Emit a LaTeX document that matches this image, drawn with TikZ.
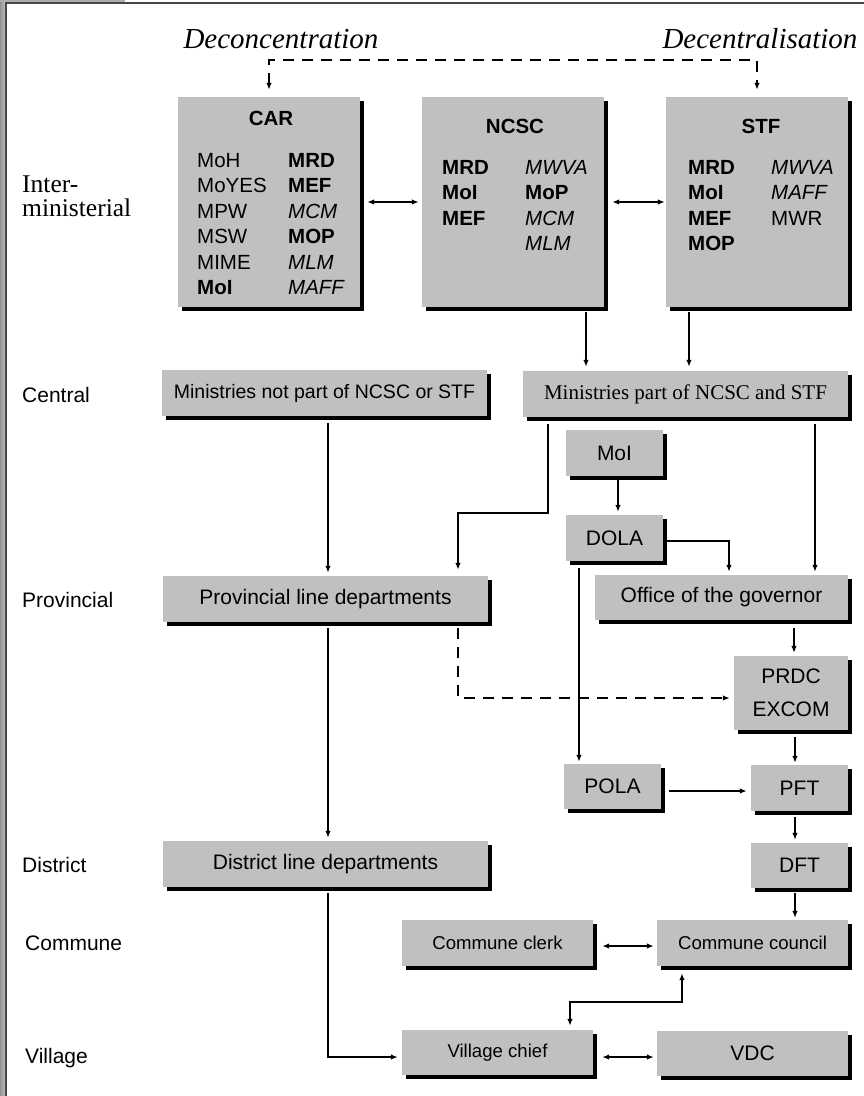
\documentclass[tikz,border=0pt]{standalone}
\usepackage{fontspec}
\setmainfont{Liberation Sans}
\newfontfamily\timesfont{Liberation Serif}
\usetikzlibrary{arrows.meta,shadows}
\definecolor{boxgray}{RGB}{192,192,192}
\definecolor{framegray}{RGB}{70,70,70}
\tikzset{
  box/.style={fill=boxgray, inner sep=0pt, font=\fontsize{21}{25}\selectfont,
    drop shadow={shadow xshift=4pt, shadow yshift=-4pt, fill=black, opacity=1}},
  item/.style={font=\fontsize{20.5}{25}\selectfont, inner sep=0pt, anchor=base west},
  head/.style={font=\fontsize{20.5}{25}\selectfont\bfseries, inner sep=0pt, anchor=base},
  level/.style={font=\fontsize{21}{25}\selectfont, inner sep=0pt, anchor=base west},
  arr/.style={line width=1.7pt, -{Latex[length=7pt,width=5.5pt]}},
  both/.style={line width=1.7pt, {Latex[length=7pt,width=5.5pt]}-{Latex[length=7pt,width=5.5pt]}},
  dashline/.style={dash pattern=on 11pt off 8pt},
}
\begin{document}
\begin{tikzpicture}[x=1pt,y=-1pt]
  \useasboundingbox (0,0) rectangle (864,1096);
  % page frame
  \shade[left color=gray!85, right color=gray!50] (0,0) rectangle (5,1096);
  \fill[gray!65] (0,0) rectangle (125,2);
  \draw[framegray, line width=2pt] (6,1096) -- (6,3) -- (864,3);

  % levels
  \node[anchor=north west, inner sep=0pt, align=left, font=\timesfont\fontsize{25.5}{24}\selectfont] (lvinter) at (22,176) {Inter-\\ministerial};
  \node[level] (lvcentral) at (22,402) {Central};
  \node[level] (lvprov) at (22,607) {Provincial};
  \node[level] (lvdist) at (22,872) {District};
  \node[level] (lvcomm) at (25,950) {Commune};
  \node[level] (lvvill) at (25,1063) {Village};

  \node[anchor=base, inner sep=0pt, font=\timesfont\itshape\fontsize{29}{29}\selectfont] (deconc) at (281,48) {Deconcentration};
  \node[anchor=base, inner sep=0pt, font=\timesfont\itshape\fontsize{29}{29}\selectfont] (decent) at (760,48) {Decentralisation};

  % inter-ministerial boxes
  \node[box, minimum width=182pt, minimum height=210pt] (car) at (269,202) {};
  \node[box, minimum width=182pt, minimum height=210pt] (ncsc) at (513,202) {};
  \node[box, minimum width=182pt, minimum height=210pt] (stf) at (757,202) {};
  \node[head] (carhead) at (271,125) {CAR};
  \node[head] (ncschead) at (515,133) {NCSC};
  \node[head] (stfhead) at (761,133) {STF};
  \foreach \t [count=\i] in {MoH,MoYES,MPW,MSW,MIME,\textbf{MoI}}
    \node[item] (cara\i) at (197,{167+25.5*(\i-1)}) {\t};
  \foreach \t [count=\i] in {\textbf{MRD},\textbf{MEF},\textit{MCM},\textbf{MOP},\textit{MLM},\textit{MAFF}}
    \node[item] (carb\i) at (288,{167+25.5*(\i-1)}) {\t};
  \foreach \t [count=\i] in {\textbf{MRD},\textbf{MoI},\textbf{MEF}}
    \node[item] (ncsca\i) at (442,{174+25.5*(\i-1)}) {\t};
  \foreach \t [count=\i] in {\textit{MWVA},\textbf{MoP},\textit{MCM},\textit{MLM}}
    \node[item] (ncscb\i) at (525,{174+25.5*(\i-1)}) {\t};
  \foreach \t [count=\i] in {\textbf{MRD},\textbf{MoI},\textbf{MEF},\textbf{MOP}}
    \node[item] (stfa\i) at (688,{174+25.5*(\i-1)}) {\t};
  \foreach \t [count=\i] in {\textit{MWVA},\textit{MAFF},MWR}
    \node[item] (stfb\i) at (771,{174+25.5*(\i-1)}) {\t};

  % central
  \node[box, minimum width=325pt, minimum height=46pt, font=\fontsize{19.5}{23}\selectfont] (minnot) at (324.5,393) {Ministries not part of NCSC or STF};
  \node[box, minimum width=325pt, minimum height=46pt, font=\timesfont\fontsize{21}{25}\selectfont] (minpart) at (685.5,394) {Ministries part of NCSC and STF};
  \node[box, minimum width=97pt, minimum height=46pt] (moi) at (614.5,453) {MoI};
  \node[box, minimum width=97pt, minimum height=46pt] (dola) at (614.5,538) {DOLA};

  % provincial
  \node[box, minimum width=325pt, minimum height=46pt] (prov) at (325.5,599) {Provincial line departments};
  \node[box, minimum width=253pt, minimum height=45pt] (gov) at (721.5,597.5) {Office of the governor};
  \node[box, minimum width=114pt, minimum height=74pt, align=center, font=\fontsize{21}{33}\selectfont] (prdc) at (791,693) {PRDC\\EXCOM};
  \node[box, minimum width=97pt, minimum height=45pt] (pola) at (612.5,786.5) {POLA};
  \node[box, minimum width=97pt, minimum height=46pt] (pft) at (799.5,788) {PFT};

  % district
  \node[box, minimum width=325pt, minimum height=46pt] (dist) at (325.5,864) {District line departments};
  \node[box, minimum width=97pt, minimum height=45pt] (dft) at (799.5,865.5) {DFT};

  % commune and village
  \node[box, minimum width=191pt, minimum height=46pt, font=\fontsize{18.6}{22}\selectfont] (clerk) at (497.5,943) {Commune clerk};
  \node[box, minimum width=191pt, minimum height=46pt, font=\fontsize{18.6}{22}\selectfont] (council) at (752.5,943) {Commune council};
  \node[box, minimum width=191pt, minimum height=45pt, font=\fontsize{18.6}{22}\selectfont] (chief) at (497.5,1052.5) {Village chief};
  \node[box, minimum width=191pt, minimum height=45pt] (vdc) at (752.5,1053) {VDC};

  % connectors
  \draw[both, dashline, shorten <=7pt, shorten >=7pt] (car.north) -- ++(0,-37) -| (stf.north);
  \draw[both, shorten <=7pt, shorten >=3pt] (car) -- (ncsc);
  \draw[both, shorten <=8pt, shorten >=1pt] (ncsc) -- (stf);
  \draw[arr, shorten <=5pt, shorten >=4pt] ([xshift=73pt]ncsc.south) -- ([xshift=73pt]ncsc.south |- minpart.north);
  \draw[arr, shorten <=5pt, shorten >=4pt] ([xshift=-68pt]stf.south) -- ([xshift=-68pt]stf.south |- minpart.north);

  \draw[arr, shorten <=7pt, shorten >=3pt] ([xshift=3.5pt]minnot.south) -- ([xshift=3.5pt]minnot.south |- prov.north);
  \draw[arr, shorten <=7pt, shorten >=6pt] ([xshift=-137.5pt]minpart.south) -- ++(0,96) -| ([xshift=132.5pt]prov.north);
  \draw[arr, shorten <=7pt, shorten >=3pt] ([xshift=129.5pt]minpart.south) -- ([xshift=129.5pt]minpart.south |- gov.north);
  \draw[arr, shorten <=4pt, shorten >=3pt] ([xshift=3.5pt]moi.south) -- ([xshift=3.5pt]moi.south |- dola.north);
  \draw[arr, shorten <=2pt, shorten >=3pt] ([yshift=-3pt]dola.east) -| ([xshift=7.5pt]gov.north);
  \draw[arr, shorten <=7pt, shorten >=2pt] ([xshift=-35.5pt]dola.south) -- ([xshift=-35.5pt]dola.south |- pola.north);

  \draw[arr, shorten <=8pt, shorten >=3pt] ([xshift=72.5pt]gov.south) -- ([xshift=72.5pt]gov.south |- prdc.north);
  \draw[arr, dashline, shorten <=6pt, shorten >=4pt] ([xshift=132.5pt]prov.south) |- ([yshift=-5pt]prdc.west);
  \draw[arr, shorten <=6pt, shorten >=3pt] ([xshift=2.5pt]prov.south) -- ([xshift=2.5pt]prov.south |- dist.north);
  \draw[arr, shorten <=7pt, shorten >=2pt] ([xshift=4pt]prdc.south) -- ([xshift=4pt]prdc.south |- pft.north);
  \draw[arr, shorten <=8pt, shorten >=4pt] ([yshift=-4.5pt]pola.east) -- ([yshift=-4.5pt]pola.east -| pft.west);

  \draw[arr, shorten <=6pt, shorten >=3pt] ([xshift=-4.5pt]pft.south) -- ([xshift=-4.5pt]pft.south |- dft.north);
  \draw[arr, shorten <=5pt, shorten >=2pt] ([xshift=-4.5pt]dft.south) -- ([xshift=-4.5pt]dft.south |- council.north);
  \draw[arr, shorten <=6pt, shorten >=4pt] ([xshift=2.5pt]dist.south) |- ([yshift=-4.5pt]chief.west);

  \draw[both, shorten <=9pt, shorten >=3pt] ([yshift=-3pt]clerk.east) -- ([yshift=-3pt]clerk.east -| council.west);
  \draw[both, shorten <=7pt, shorten >=4pt] ([xshift=-70.5pt]council.south) -- ++(0,36) -| ([xshift=72.5pt]chief.north);
  \draw[both, shorten <=9pt, shorten >=3pt] ([yshift=-4.5pt]chief.east) -- ([yshift=-4.5pt]chief.east -| vdc.west);
\end{tikzpicture}
\end{document}
